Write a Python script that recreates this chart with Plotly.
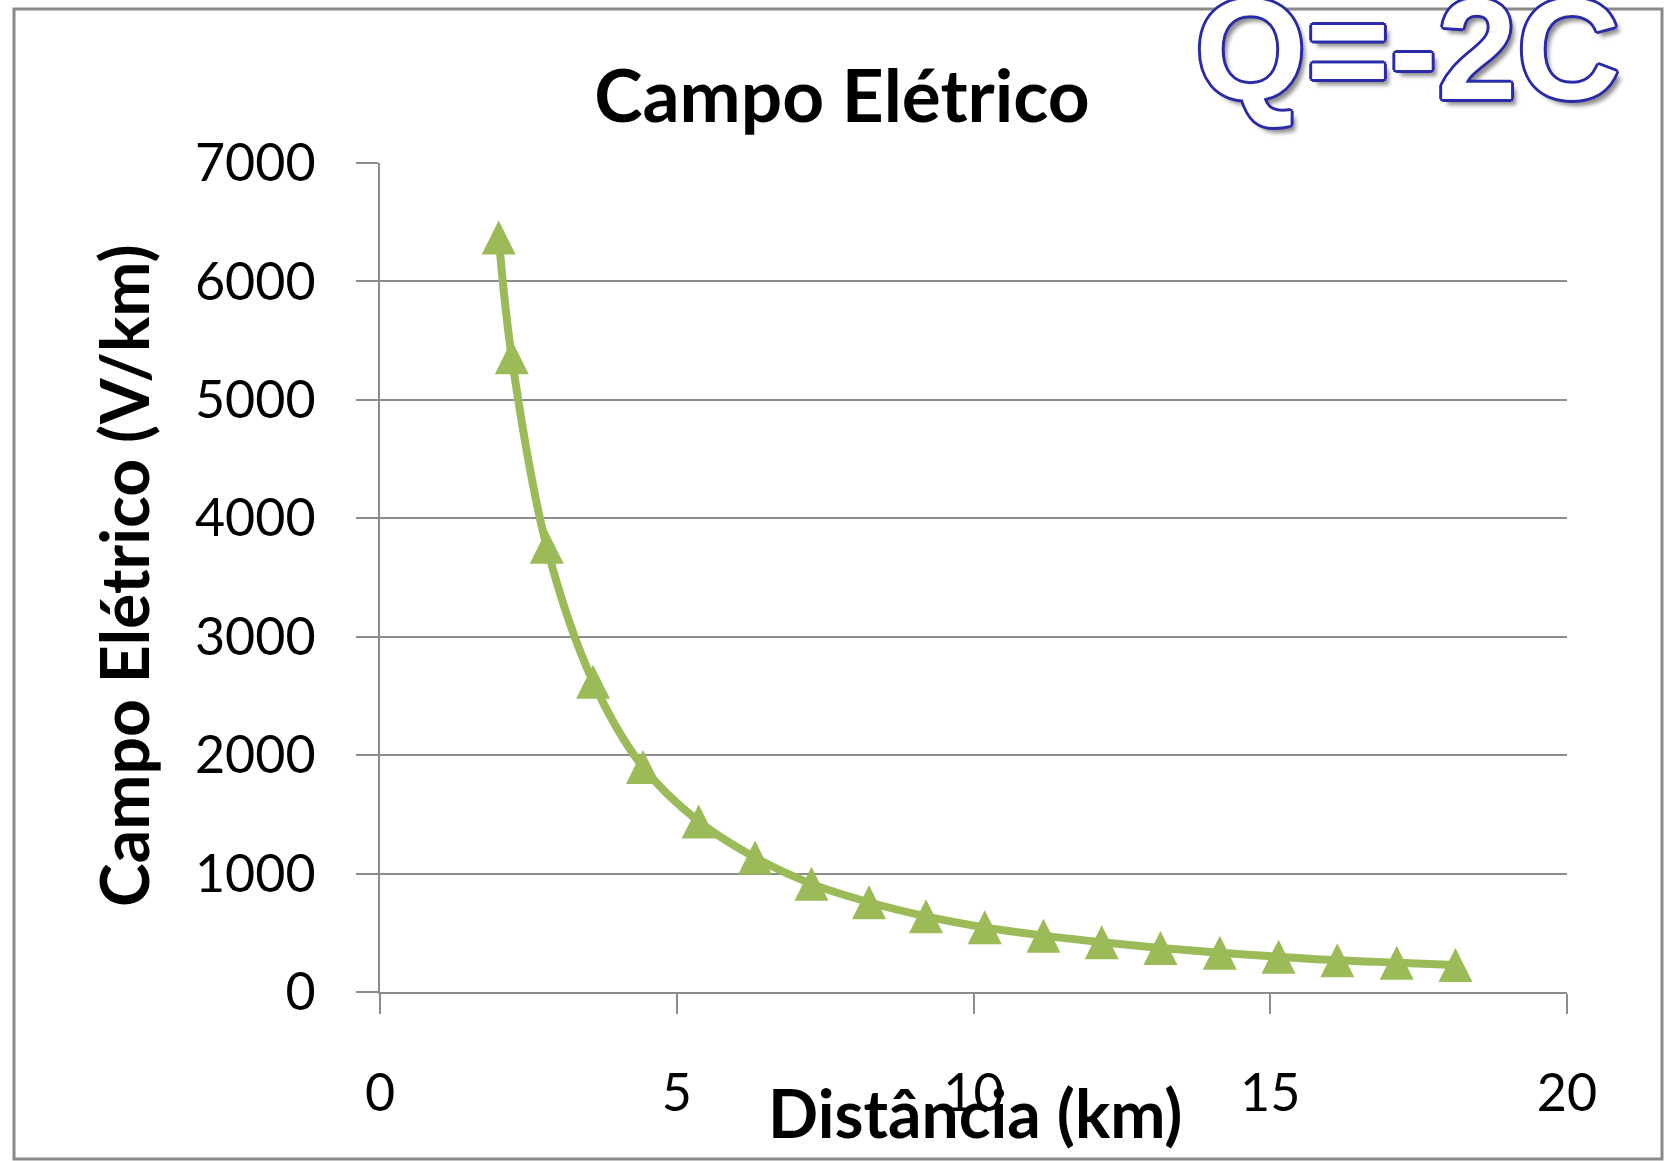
import plotly.graph_objects as go

# Distance (km) and electric field magnitude (V/km) for Q = -2 C
distancia_km = [2.0, 2.22, 2.81, 3.59, 4.43, 5.37, 6.32, 7.27, 8.24, 9.2,
                10.19, 11.18, 12.16, 13.15, 14.15, 15.14, 16.13, 17.13, 18.12]
campo_v_km = [6370, 5360, 3760, 2620, 1900, 1440, 1135, 913, 758, 639,
              546, 476, 420, 372, 332, 298, 268, 248, 228]

x_ticks = [0, 5, 10, 15, 20]
y_ticks = [0, 1000, 2000, 3000, 4000, 5000, 6000, 7000]

W, H = 1672, 1161
L, R, T, B = 380, 105, 163, 169
PW, PH = W - L - R, H - T - B


def px_x(p):
    return (p - L) / PW


def px_y(p):
    return (H - B - p) / PH


GREEN = "#9bbb59"
GRID = "#8c8c8c"
FONT = "Lato"
MK = 34

fig = go.Figure()
fig.add_trace(go.Scatter(
    x=distancia_km, y=campo_v_km, mode="lines+markers",
    line=dict(color=GREEN, width=8, shape="spline", smoothing=1, backoff=0),
    marker=dict(symbol="arrow-down", angle=180, standoff=MK / 2, size=MK,
                color=GREEN, line=dict(width=0)),
    showlegend=False, hoverinfo="x+y",
))

fig.update_layout(
    width=W, height=H,
    margin=dict(l=L, r=R, t=T, b=B, autoexpand=False),
    paper_bgcolor="white", plot_bgcolor="white",
    title=dict(text="<b>Campo Elétrico</b>", x=842 / W, xref="container",
               xanchor="center", y=1 - 96 / H, yref="container", yanchor="middle",
               font=dict(family=FONT, size=73, color="black")),
    xaxis=dict(range=[0, 20], tickvals=x_ticks, ticktext=[str(v) for v in x_ticks],
               showgrid=False, zeroline=False, showline=True, linecolor=GRID,
               linewidth=2, ticks="outside", ticklen=20, tickwidth=2,
               tickcolor=GRID, ticklabelstandoff=35,
               tickfont=dict(family=FONT, size=52, color="black")),
    yaxis=dict(range=[0, 7000], tickvals=y_ticks, ticktext=[str(v) for v in y_ticks],
               showgrid=True, gridcolor=GRID, gridwidth=2, zeroline=False,
               showline=True, linecolor=GRID, linewidth=2, ticks="outside",
               ticklen=22, tickwidth=2, tickcolor=GRID, ticklabelstandoff=30,
               tickfont=dict(family=FONT, size=52, color="black")),
)

# chart frame
fig.add_shape(type="rect", xref="paper", yref="paper",
              x0=px_x(14), x1=px_x(1662), y0=px_y(1159), y1=px_y(9),
              line=dict(color="#8a8a8a", width=3), fillcolor="rgba(0,0,0,0)",
              layer="below")

# axis titles
fig.add_annotation(text="<b>Distância (km)</b>", xref="paper", yref="paper",
                   x=px_x(975), y=px_y(1112), xanchor="center", yanchor="middle",
                   showarrow=False, font=dict(family=FONT, size=66, color="black"))
fig.add_annotation(text="<b>Campo Elétrico (V/km)</b>", xref="paper", yref="paper",
                   x=px_x(123), y=px_y(576), xanchor="center", yanchor="middle",
                   textangle=-90, showarrow=False,
                   font=dict(family=FONT, size=66, color="black"))

# outlined charge label
BLUE = "#2a2aaa"
o = 3
outline = ", ".join(f"{dx}px {dy}px 0 {BLUE}" for dx, dy in
                    [(o, 0), (-o, 0), (0, o), (0, -o), (2, 2), (-2, -2), (2, -2), (-2, 2)])
fig.add_annotation(text="<b>Q=-2C</b>", xref="paper", yref="paper",
                   x=px_x(1407), y=px_y(49), xanchor="center", yanchor="middle",
                   showarrow=False,
                   font=dict(family="Liberation Sans", size=143, color="white",
                             shadow=outline + ", 5px 6px 4px rgba(0,0,0,0.45)"))

fig.write_html("out.html")
